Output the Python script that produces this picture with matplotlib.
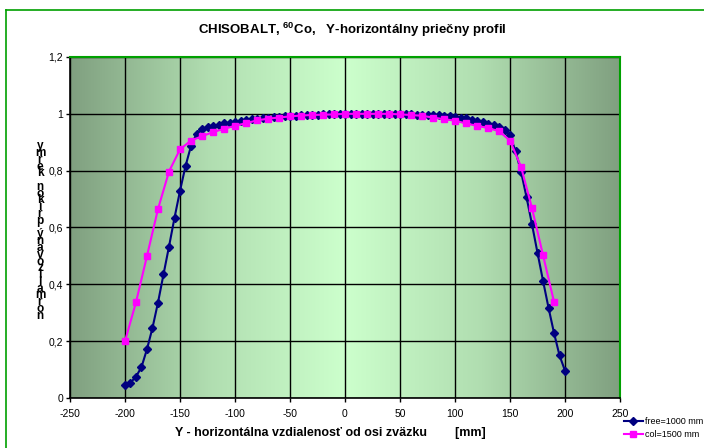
"""
Priečny profil zväzku CHISOBALT (60Co) v smere Y — normalizovaný príkon kermy
pre dve konfigurácie: voľné pole (1000 mm) a s kolimátorom (1500 mm).
"""

import numpy as np
import matplotlib
matplotlib.use('Agg')
import matplotlib.pyplot as plt
from matplotlib.colors import LinearSegmentedColormap
from matplotlib.lines import Line2D
from matplotlib.ticker import FuncFormatter

plt.rcParams['font.family'] = ['Liberation Sans', 'DejaVu Sans']
plt.rcParams['mathtext.fontset'] = 'custom'
plt.rcParams['mathtext.bf'] = 'Liberation Sans:bold'
plt.rcParams['mathtext.rm'] = 'Liberation Sans'
plt.rcParams['axes.unicode_minus'] = False

# --- namerané hodnoty -------------------------------------------------------
# free=1000 mm, krok 5 mm
y_free = np.arange(-200, 201, 5)
k_free = [0.045, 0.054, 0.075, 0.109, 0.172, 0.247, 0.336, 0.435, 0.533, 0.634,
          0.729, 0.816, 0.887, 0.930, 0.946, 0.953, 0.958, 0.962, 0.966, 0.969,
          0.973, 0.976, 0.979, 0.981, 0.983, 0.985, 0.987, 0.988, 0.990, 0.991,
          0.992, 0.993, 0.995, 0.996, 0.997, 0.997, 0.998, 0.998, 0.999, 0.999,
          1.000, 1.000, 1.000, 1.000, 1.000, 1.000, 1.000, 0.999, 0.999, 0.999,
          0.999, 0.998, 0.998, 0.997, 0.997, 0.996, 0.996, 0.995, 0.993, 0.992,
          0.988, 0.986, 0.984, 0.979, 0.974, 0.970, 0.965, 0.960, 0.955, 0.944,
          0.925, 0.869, 0.797, 0.707, 0.611, 0.511, 0.413, 0.318, 0.229, 0.150,
          0.096]

# col=1500 mm, krok 10 mm
y_col = np.arange(-200, 191, 10)
k_col = [0.200, 0.337, 0.500, 0.665, 0.797, 0.875, 0.906, 0.921, 0.936, 0.947,
         0.958, 0.967, 0.977, 0.983, 0.987, 0.991, 0.994, 0.996, 0.997, 0.998,
         1.000, 1.000, 1.000, 1.000, 1.000, 0.998, 0.996, 0.993, 0.987, 0.981,
         0.976, 0.966, 0.958, 0.950, 0.939, 0.906, 0.814, 0.668, 0.503, 0.339]

x_ticks = np.arange(-250, 251, 50)
y_ticks = np.arange(0, 1.21, 0.2)

title = r"CHISOBALT, $\mathbf{^{60}}$Co,   Y-horizontálny priečny profil"
xlabel = "Y - horizontálna vzdialenosť od osi zväzku        [mm]"
ylabel = "normalizovaný príkon kermy"

fig = plt.figure(figsize=(7.04, 4.48), dpi=100)
ax = fig.add_axes([70/704, 50/448, 550/704, 341/448])

# pozadie: prechod od sivozelenej na okrajoch po svetlozelenú v strede
grad = np.abs(np.linspace(-1, 1, 256))[None, :]
cmap = LinearSegmentedColormap.from_list('bg', ['#CCFFCC', '#B0DDB0', '#80A080'])
ax.imshow(grad, extent=[-250, 250, 0, 1.2], aspect='auto', cmap=cmap,
          zorder=0, interpolation='bilinear')

ax.plot(y_free, k_free, color='#000080', lw=1.5, marker='D', ms=4.5,
        mec='#000080', label='free=1000 mm', zorder=3)
ax.plot(y_col, k_col, color='#FF00FF', lw=1.5, marker='s', ms=5,
        mec='#FF00FF', label='col=1500 mm', zorder=4)

ax.set_xlim(-250, 250)
ax.set_ylim(0, 1.2)
ax.set_xticks(x_ticks)
ax.set_yticks(y_ticks)
ax.yaxis.set_major_formatter(FuncFormatter(lambda v, p: f"{v:g}".replace('.', ',')))
ax.grid(True, color='black', lw=1.0)
for ln in ax.get_xgridlines() + ax.get_ygridlines():
    ln.set_zorder(1)
ax.tick_params(labelsize=7.5, length=3, width=1, direction='out', pad=2)
ax.tick_params(axis='x', pad=5)

for s in ['left', 'bottom']:
    ax.spines[s].set_color('black')
    ax.spines[s].set_linewidth(1.2)
for s in ['top', 'right']:
    ax.spines[s].set_color('#00A000')
    ax.spines[s].set_linewidth(1.5)

fig.text(352/704, 1 - 30/448, title, ha='center', va='center',
         fontsize=9.5, fontweight='bold')
fig.text(330/704, 1 - 433/448, xlabel, ha='center', va='center',
         fontsize=9, fontweight='bold')

# popis osi y: písmená nad sebou, čítané zdola nahor (tesne, ako v Exceli)
fig.text(40/704, 1 - 231/448, '\n'.join(reversed(ylabel)), ha='center',
         va='center', fontsize=8.5, fontweight='bold', linespacing=0.42)

fig.legend(loc='center left', bbox_to_anchor=(619/704, 1 - 428/448),
           frameon=False, fontsize=6.5, handlelength=2.2, handletextpad=0.2,
           labelspacing=0.5, borderpad=0)

# zelený rámček celého grafu
fig.add_artist(Line2D([6/704, 6/704], [0, 1 - 10/448], color='#00A000', lw=1.2,
                      transform=fig.transFigure))
fig.add_artist(Line2D([6/704, 1], [1 - 10/448, 1 - 10/448], color='#00A000', lw=1.2,
                      transform=fig.transFigure))

fig.savefig('out.png', dpi=100)
